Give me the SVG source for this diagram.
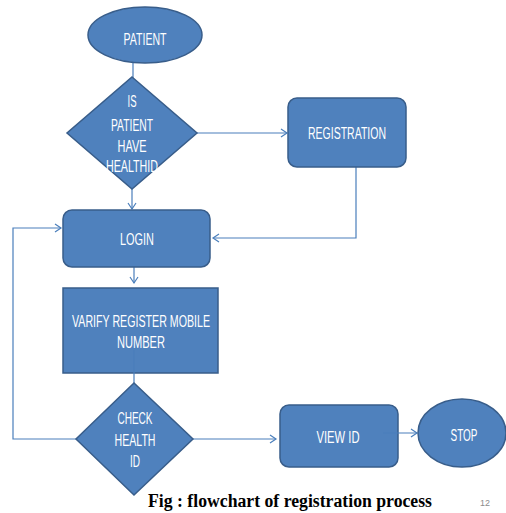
<svg xmlns="http://www.w3.org/2000/svg" width="506" height="513" viewBox="0 0 506 513">
<defs>
<style>
.shape{fill:#4F81BD;stroke:#385D8A;stroke-width:1.5}
.conn{fill:none;stroke:#4A7EBB;stroke-width:1.2}
.lbl{font-family:"Liberation Sans",Arial,sans-serif;font-size:16px;fill:#FFFFFF;text-anchor:middle}
</style>
<marker id="arr" markerUnits="userSpaceOnUse" markerWidth="12" markerHeight="12" refX="8" refY="5" orient="auto">
<path d="M2,1 L8,5 L2,9" fill="none" stroke="#4A7EBB" stroke-width="1.2"/>
</marker>
</defs>
<rect width="506" height="513" fill="#FFFFFF"/>
<g id="connectors">
<line class="conn" x1="133" y1="56" x2="133" y2="78"/>
<line class="conn" x1="132" y1="189" x2="132" y2="209" marker-end="url(#arr)"/>
<line class="conn" x1="197" y1="133" x2="287" y2="133" marker-end="url(#arr)"/>
<polyline class="conn" points="356,167 356,238 213,238" marker-end="url(#arr)"/>
<line class="conn" x1="134" y1="267" x2="134" y2="283" marker-end="url(#arr)"/>
<polyline class="conn" points="76,439 13,439 13,228 61,228" marker-end="url(#arr)"/>
<line class="conn" x1="193" y1="439" x2="276" y2="439" marker-end="url(#arr)"/>
</g>
<g id="patient">
<ellipse class="shape" cx="145" cy="35" rx="57" ry="28"/>
<text class="lbl" x="145" y="45" textLength="43" lengthAdjust="spacingAndGlyphs">PATIENT</text>
</g>
<g id="has-healthid">
<polygon class="shape" points="132,77 197,133 132,189 67,133"/>
<text class="lbl" x="132" y="107" textLength="9" lengthAdjust="spacingAndGlyphs">IS</text>
<text class="lbl" x="132" y="131" textLength="42" lengthAdjust="spacingAndGlyphs">PATIENT</text>
<text class="lbl" x="132" y="152" textLength="29" lengthAdjust="spacingAndGlyphs">HAVE</text>
<text class="lbl" x="132" y="172" textLength="52" lengthAdjust="spacingAndGlyphs">HEALTHID</text>
</g>
<g id="registration">
<rect class="shape" x="288" y="98" width="118" height="69" rx="9"/>
<text class="lbl" x="347" y="139" textLength="78" lengthAdjust="spacingAndGlyphs">REGISTRATION</text>
</g>
<g id="login">
<rect class="shape" x="63" y="210" width="147" height="57" rx="9"/>
<text class="lbl" x="137" y="245" textLength="34" lengthAdjust="spacingAndGlyphs">LOGIN</text>
</g>
<g id="verify">
<rect class="shape" x="63" y="288" width="155" height="85"/>
<text class="lbl" x="141" y="327" textLength="138" lengthAdjust="spacingAndGlyphs">VARIFY REGISTER MOBILE</text>
<text class="lbl" x="141" y="348" textLength="48" lengthAdjust="spacingAndGlyphs">NUMBER</text>
<line class="conn" x1="134" y1="350" x2="134" y2="384"/>
</g>
<g id="check-health-id">
<polygon class="shape" points="134,383 193,439 134,495 76,439"/>
<text class="lbl" x="135" y="424" textLength="35" lengthAdjust="spacingAndGlyphs">CHECK</text>
<text class="lbl" x="135" y="446" textLength="41" lengthAdjust="spacingAndGlyphs">HEALTH</text>
<text class="lbl" x="135" y="467" textLength="10" lengthAdjust="spacingAndGlyphs">ID</text>
</g>
<g id="view-id">
<rect class="shape" x="280" y="405" width="118" height="62" rx="9"/>
<text class="lbl" x="338" y="443" textLength="43" lengthAdjust="spacingAndGlyphs">VIEW ID</text>
<line class="conn" x1="383" y1="433" x2="417" y2="433" marker-end="url(#arr)"/>
</g>
<g id="stop">
<ellipse class="shape" cx="462" cy="433" rx="44" ry="34"/>
<text class="lbl" x="464" y="441" textLength="27" lengthAdjust="spacingAndGlyphs">STOP</text>
</g>
<text x="290" y="507" font-family="'Liberation Serif','Times New Roman',serif" font-weight="bold" font-size="18" text-anchor="middle" fill="#000000" textLength="284" lengthAdjust="spacingAndGlyphs">Fig : flowchart of registration process</text>
<text x="485" y="506" font-family="'Liberation Sans',Arial,sans-serif" font-size="9" text-anchor="middle" fill="#8C8C8C">12</text>
</svg>
